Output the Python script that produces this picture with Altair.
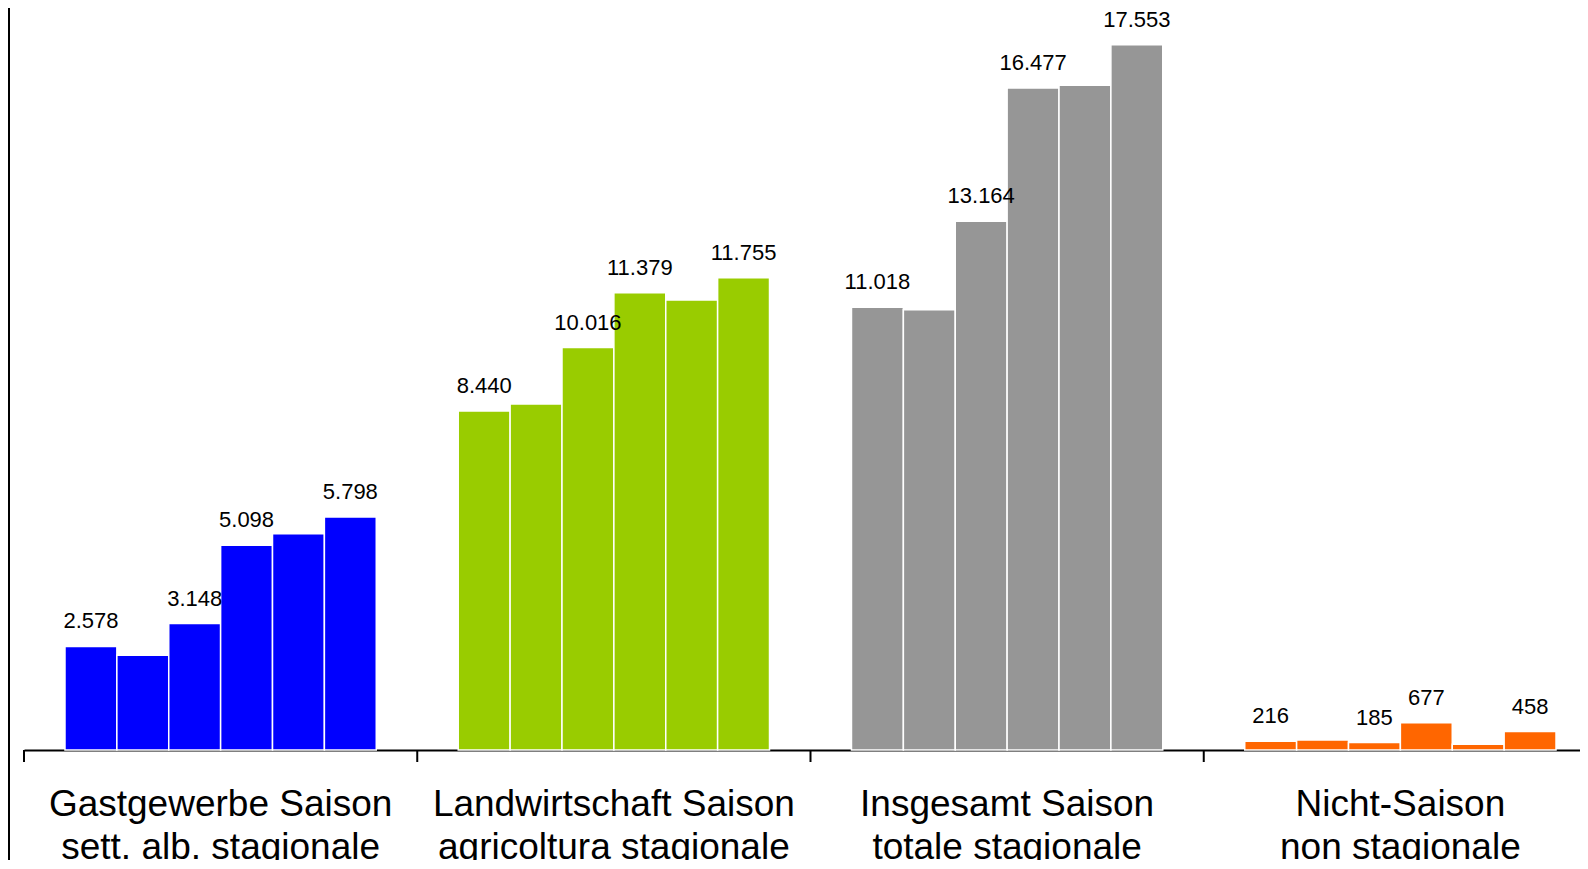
import altair as alt
import pandas as pd

groups = [
    "Gastgewerbe Saison|sett. alb. stagionale",
    "Landwirtschaft Saison|agricoltura stagionale",
    "Insgesamt Saison|totale stagionale",
    "Nicht-Saison|non stagionale",
]
periods = ["1", "2", "3", "4", "5", "6"]
gastgewerbe = [2578, 2360, 3148, 5098, 5380, 5798]
landwirtschaft = [8440, 8610, 10016, 11379, 11200, 11755]
insgesamt = [11018, 10960, 13164, 16477, 16545, 17553]
nicht_saison = [216, 250, 185, 677, 145, 458]
labeled = [True, False, True, True, False, True]
colors = ["#0000FF", "#99CC00", "#969696", "#FF6600"]

rows = []
for g, series in zip(groups, [gastgewerbe, landwirtschaft, insgesamt, nicht_saison]):
    for p, v, show in zip(periods, series, labeled):
        rows.append({
            "group": g,
            "period": p,
            "value": v,
            "label": f"{v:,}".replace(",", ".") if show else "",
        })
df = pd.DataFrame(rows)

x_scale = alt.Scale(range=[0, 1573], paddingInner=0, paddingOuter=0)
x_enc = alt.X(
    "group:N", sort=groups, scale=x_scale,
    axis=alt.Axis(
        title=None, labelAngle=0, ticks=False, tickSize=0,
        labelExpr="split(datum.label, '|')",
        domainColor="black", domainWidth=2,
        labelFont="Liberation Sans", labelFontSize=37, labelColor="black",
        labelLineHeight=43, labelPadding=36, labelLimit=0,
    ),
)
xo_enc = alt.XOffset("period:N", sort=periods,
                     scale=alt.Scale(paddingOuter=0.79, paddingInner=0))
y_enc = alt.Y("value:Q", scale=alt.Scale(domain=[0, 18470], nice=False), axis=None)

base = alt.Chart(df)
bars = base.mark_bar(stroke="white", strokeWidth=1.5).encode(
    x=x_enc, xOffset=xo_enc, y=y_enc,
    color=alt.Color("group:N", scale=alt.Scale(domain=groups, range=colors), legend=None),
)
texts = base.mark_text(dy=-18, baseline="alphabetic", fontSize=22,
                       font="Liberation Sans", color="black").encode(
    x=x_enc, xOffset=xo_enc, y=y_enc, text="label:N",
)
ticks = alt.Chart(pd.DataFrame({"group": groups})).mark_rule(
    color="black", strokeWidth=2).encode(
    x=alt.X("group:N", sort=groups, bandPosition=0),
    y=alt.value(742), y2=alt.value(754),
)
frame = alt.Chart(pd.DataFrame({"a": [0]})).mark_rule(
    color="black", strokeWidth=2).encode(
    x=alt.value(-15), y=alt.value(-10), y2=alt.value(900),
)

chart = alt.layer(bars, texts, ticks, frame).properties(
    width=1556, height=742, autosize="none",
    padding={"left": 16, "top": 0, "right": 0, "bottom": 110},
).configure_view(stroke=None)

chart.save("out.html", embed_options={"renderer": "svg", "actions": False})
